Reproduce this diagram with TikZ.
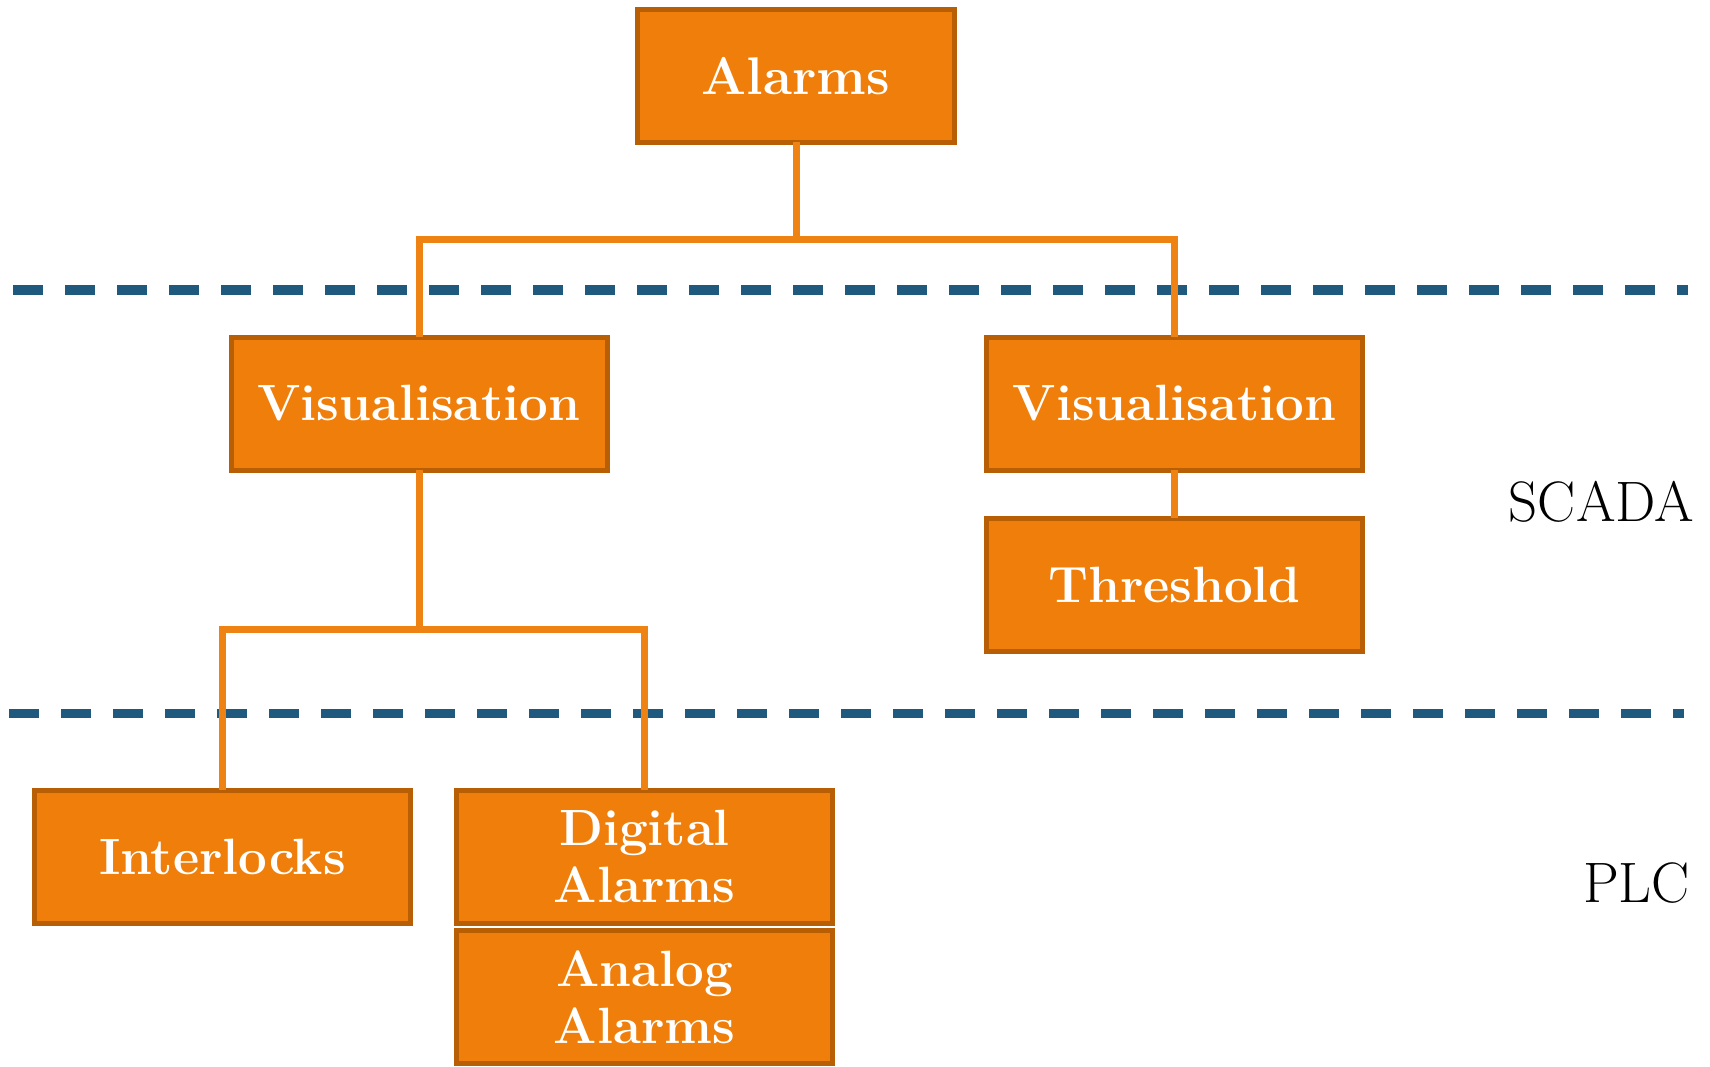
\documentclass[tikz,border=0pt]{standalone}
\usepackage{fontspec}
\definecolor{boxfill}{RGB}{239,127,10}
\definecolor{boxline}{RGB}{184,95,6}
\definecolor{wire}{RGB}{238,130,19}
\definecolor{layerline}{RGB}{31,90,126}
\begin{document}
\begin{tikzpicture}[x=1pt,y=-1pt,
  box/.style={draw=boxline,fill=boxfill,line width=5pt,minimum width=376pt,
    minimum height=133pt,inner sep=0pt,outer sep=0pt,text=white,align=center,
    font=\fontsize{51}{57}\selectfont\bfseries},
  wirepath/.style={draw=wire,line width=7pt},
  layer/.style={draw=layerline,line width=9pt,dash pattern=on 30pt off 22pt},
  layername/.style={font=\fontsize{57}{60}\selectfont,anchor=east,inner sep=0pt}]
\useasboundingbox (0,0) rectangle (1710,1067);

% layer boundaries
\draw[layer] (13,290) -- (1688,290);
\draw[layer] (9,713) -- (1684,713);

% boxes
\node[box,minimum width=317pt,font=\fontsize{53}{60}\selectfont\bfseries] (alarms) at (796,76) {Alarms};
\node[box] (visl) at (419,403.5) {Visualisation};
\node[box] (visr) at (1174.5,403.5) {Visualisation};
\node[box] (thresh) at (1174.5,584.5) {Threshold};
\node[box] (inter) at (222.5,856.5) {Interlocks};
\node[box] (digital) at (644.5,856.5) {Digital\\Alarms};
\node[box] (analog) at (644.5,997) {Analog\\Alarms};

% junctions of the tree
\coordinate (j1) at (796,240);
\coordinate (j2) at (419,629);

% connectors
\draw[wirepath] (alarms.south) -- (j1);
\draw[wirepath] (j1) -| (visl.north);
\draw[wirepath] (j1) -| (visr.north);
\draw[wirepath] (visl.south) -- (j2);
\draw[wirepath] (j2) -| (inter.north);
\draw[wirepath] (j2) -| (digital.north);
\draw[wirepath] (visr.south) -- (thresh.north);

% layer names
\node[layername] (scada) at (1694,502) {SCADA};
\node[layername] (plc) at (1690,883) {PLC};
\end{tikzpicture}
\end{document}
